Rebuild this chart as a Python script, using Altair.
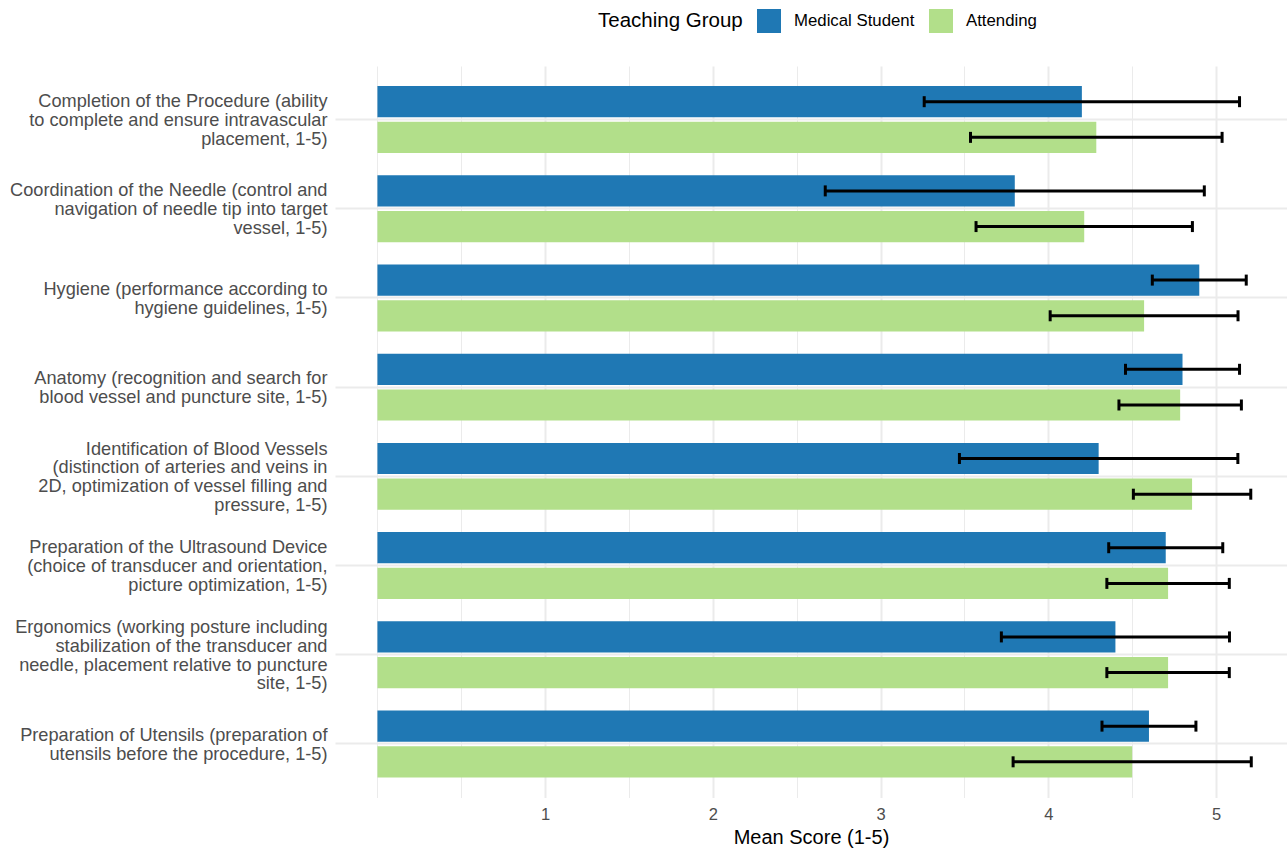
import altair as alt
import pandas as pd

# Rating criteria, top to bottom
criteria = [
    "Completion of the Procedure (ability\nto complete and ensure intravascular\nplacement, 1-5)",
    "Coordination of the Needle (control and\nnavigation of needle tip into target\nvessel, 1-5)",
    "Hygiene (performance according to\nhygiene guidelines, 1-5)",
    "Anatomy (recognition and search for\nblood vessel and puncture site, 1-5)",
    "Identification of Blood Vessels\n(distinction of arteries and veins in\n2D, optimization of vessel filling and\npressure, 1-5)",
    "Preparation of the Ultrasound Device\n(choice of transducer and orientation,\npicture optimization, 1-5)",
    "Ergonomics (working posture including\nstabilization of the transducer and\nneedle, placement relative to puncture\nsite, 1-5)",
    "Preparation of Utensils (preparation of\nutensils before the procedure, 1-5)",
]

groups = ["Medical Student", "Attending"]
group_colors = ["#1f78b4", "#b2df8a"]

# Mean score and standard deviation per criterion
student_mean = [4.20, 3.80, 4.90, 4.80, 4.30, 4.70, 4.40, 4.60]
student_sd = [0.94, 1.13, 0.28, 0.34, 0.83, 0.34, 0.68, 0.28]
attending_mean = [4.286, 4.214, 4.571, 4.786, 4.857, 4.714, 4.714, 4.500]
attending_sd = [0.75, 0.645, 0.56, 0.365, 0.35, 0.365, 0.365, 0.71]

rows = []
for i, crit in enumerate(criteria):
    for grp, m, s in (
        (groups[0], student_mean[i], student_sd[i]),
        (groups[1], attending_mean[i], attending_sd[i]),
    ):
        rows.append({"criterion": crit, "group": grp, "mean": m,
                     "lower": m - s, "upper": m + s})
df = pd.DataFrame(rows)

LINE_HEIGHT = 18.8
n_lines = "length(split(datum.value, '\\n'))"

x_scale = alt.Scale(domain=[-0.253, 5.423], nice=False, zero=False)
y_scale = alt.Scale(paddingInner=0, paddingOuter=0.1)
offset_scale = alt.Scale(domain=groups, paddingInner=0.125, paddingOuter=0.3125)

x_axis = alt.Axis(
    values=[0, 0.5, 1, 1.5, 2, 2.5, 3, 3.5, 4, 4.5, 5],
    labelExpr="datum.value >= 1 && datum.value % 1 === 0 ? format(datum.value, 'd') : ''",
    grid=True,
    gridColor="#ebebeb",
    gridWidth={"condition": {"test": "datum.value >= 1 && datum.value % 1 === 0", "value": 2}, "value": 1},
    ticks=False,
    domain=False,
    labelFontSize=16.5,
    labelColor="#4d4d4d",
    labelPadding=9,
    titleFontSize=20,
    titleFontWeight="normal",
    titleColor="black",
    titlePadding=4,
)

# multi-line labels: shift each block up so it is centred on its category
y_axis = alt.Axis(
    labelExpr="split(datum.label, '\\n')",
    labelFontSize=18.2,
    labelLineHeight=LINE_HEIGHT,
    labelColor="#4d4d4d",
    labelPadding=8,
    labelLimit=500,
    labelOffset={
        "condition": [
            {"test": f"{n_lines} == 4", "value": 1.5 - 1.5 * LINE_HEIGHT},
            {"test": f"{n_lines} == 3", "value": 1.5 - 1.0 * LINE_HEIGHT},
        ],
        "value": 1.5 - 0.5 * LINE_HEIGHT,
    },
    ticks=False,
    domain=False,
    grid=True,
    gridColor="#ebebeb",
    gridWidth=2,
    bandPosition=0.5,
)

legend = alt.Legend(
    orient="none",
    legendX=263,
    legendY=-57,
    direction="horizontal",
    titleOrient="left",
    titleFontSize=20.5,
    titleFontWeight="normal",
    titleColor="black",
    titlePadding=14,
    titleBaseline="middle",
    titleAnchor="middle",
    labelFontSize=16.8,
    labelColor="black",
    labelOffset=13,
    columnPadding=14,
    symbolType="square",
    symbolSize=576,
    symbolStrokeWidth=0,
    symbolOpacity=1,
)

base = alt.Chart(df).encode(
    y=alt.Y("criterion:N", sort=criteria, scale=y_scale, axis=y_axis, title=None),
    yOffset=alt.YOffset("group:N", sort=groups, scale=offset_scale),
)

bars = base.mark_bar().encode(
    x=alt.X("mean:Q", scale=x_scale, axis=x_axis, title="Mean Score (1-5)"),
    color=alt.Color("group:N", sort=groups,
                    scale=alt.Scale(domain=groups, range=group_colors),
                    legend=legend, title="Teaching Group"),
)

# error bars: mean ± SD
whiskers = base.mark_rule(color="black", strokeWidth=3).encode(
    x=alt.X("lower:Q", scale=x_scale), x2="upper:Q"
)
cap_low = base.mark_tick(color="black", thickness=3, size=11, opacity=1).encode(
    x=alt.X("lower:Q", scale=x_scale)
)
cap_high = base.mark_tick(color="black", thickness=3, size=11, opacity=1).encode(
    x=alt.X("upper:Q", scale=x_scale)
)

chart = (
    alt.layer(bars, whiskers, cap_low, cap_high)
    .properties(
        width=952,
        height=731.5,
        autosize=alt.AutoSizeParams(type="none"),
        padding={"left": 335, "top": 66, "right": 0, "bottom": 52.5},
    )
    .configure(background="white", font="Liberation Sans")
    .configure_view(stroke=None)
)

chart.save("out.html", embed_options={"renderer": "svg", "actions": False})
